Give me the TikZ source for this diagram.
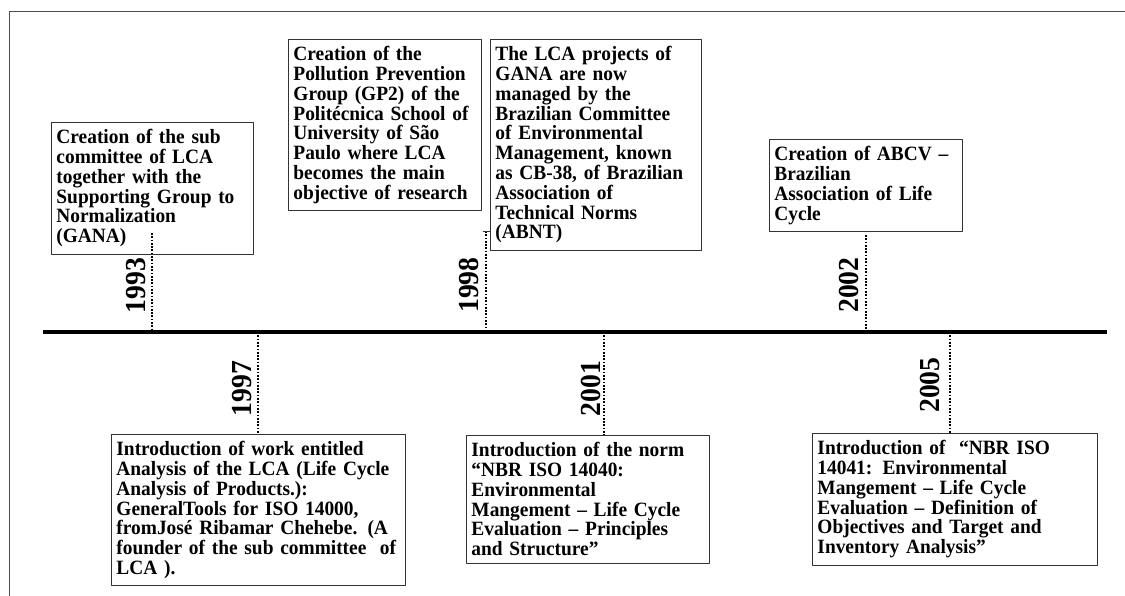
\documentclass[tikz,border=0pt]{standalone}
\usepackage{fontspec}
\setmainfont{Liberation Serif}[FakeStretch=0.955, WordSpace=0.8]
\usetikzlibrary{positioning}
\begin{document}
\begin{tikzpicture}[x=1pt, y=-1pt, line join=bevel,
  event/.style={draw=black!80, line width=0.9pt, anchor=north west, align=left,
    inner xsep=5pt, inner ysep=7pt, font=\bfseries\fontsize{20.3}{19.8}\selectfont},
  yearlbl/.style={rotate=90, anchor=south, inner sep=0pt, font=\bfseries\fontsize{29}{29}\selectfont},
  stem/.style={line width=2.4pt, dash pattern=on 1.7pt off 1.6pt}]
	     \useasboundingbox (0,0) rectangle (1125,596);
	     %
	     \coordinate (framebl) at (9,600);
	     \coordinate (frametr) at (1130,12);
	     \draw[black!70, line width=1pt] (framebl) |- (frametr);
	     %
	     \coordinate (tlstart) at (43,332);
	     \coordinate (tlend) at (1107,332);
	     \draw[line width=3.2pt] (tlstart) -- (tlend);
	     %
	     \node[event, text width=192pt] (ev93) at (51,122) {Creation of the sub\\committee of LCA\\together with the\\Supporting Group to\\Normalization\\(GANA)};
	     \node[event, text width=183pt] (ev98a) at (288,39) {Creation of the\\Pollution Prevention\\Group (GP2) of the\\Politécnica School of\\University of São\\Paulo where LCA\\becomes the main\\objective of research};
	     \node[event, text width=201pt] (ev98b) at (490,39) {The LCA projects of\\GANA are now\\managed by the\\Brazilian Committee\\of Environmental\\Management, known\\as CB-38, of Brazilian\\Association of\\Technical Norms\\(ABNT)};
	     \node[event, text width=183pt] (ev02) at (769,139) {Creation of ABCV --\\Brazilian\\Association of Life\\Cycle};
	     \node[event, text width=284pt] (ev97) at (111,434) {Introduction of work entitled\\\mbox{Analysis of the LCA (Life Cycle}\\Analysis of Products.):\\GeneralTools for ISO 14000,\\fromJosé Ribamar Chehebe. (A\\\mbox{founder of the sub committee \ of}\\LCA ).};
	     \node[event, text width=233pt] (ev01) at (466,435) {Introduction of the norm\\“NBR ISO 14040:\\Environmental\\Mangement -- Life Cycle\\Evaluation -- Principles\\and Structure”};
	     \node[event, text width=275pt] (ev05) at (812,433) {Introduction of \ “NBR ISO\\14041: Environmental\\Mangement -- Life Cycle\\Evaluation -- Definition of\\Objectives and Target and\\Inventory Analysis”};
	     %
	     \coordinate (y93) at (152,332);
	     \coordinate (y93top) at (152,233);
	     \coordinate (y98) at (486,332);
	     \coordinate (y98top) at (486,231);
	     \coordinate (y02) at (866,332);
	     \coordinate (y02top) at (866,235);
	     \coordinate (y97) at (258,332);
	     \coordinate (y01) at (604,332);
	     \coordinate (y05) at (950,332);
	     %
	     \draw[stem] (y93top) -- (y93);
	     \draw[stem] (y98top) -- (y98);
	     \draw[black!80, line width=0.9pt] (483,231) -- (y98top -| ev98b.west);
	     \draw[stem] (y02top) -- (y02);
	     \draw[stem] (y97) -- (y97 |- ev97.north);
	     \draw[stem] (y01) -- (y01 |- ev01.north);
	     \draw[stem] (y05) -- (y05 |- ev05.north);
	     %
	     \node[yearlbl] (lbl93) at (146,285.5) {1993};
	     \node[yearlbl] (lbl98) at (479,285) {1998};
	     \node[yearlbl] (lbl02) at (859,285) {2002};
	     \node[yearlbl] (lbl97) at (252,388.5) {1997};
	     \node[yearlbl] (lbl01) at (601,388.5) {2001};
	     \node[yearlbl] (lbl05) at (940,385) {2005};
\end{tikzpicture}
\end{document}
